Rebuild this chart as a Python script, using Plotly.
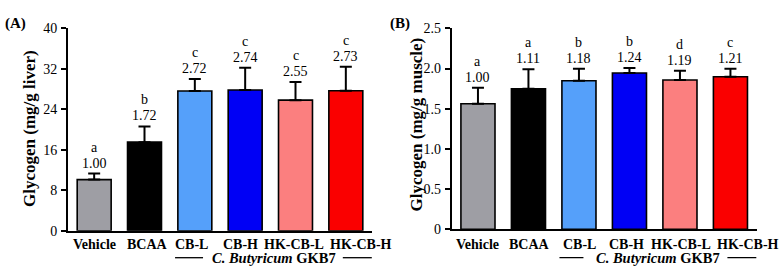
import plotly.graph_objects as go

categories = ["Vehicle", "BCAA", "CB-L", "CB-H", "HK-CB-L", "HK-CB-H"]
colors = ["#9e9ea4", "#000000", "#55a0fa", "#0000f5", "#fb7f7f", "#fa0000"]

# Panel A: liver glycogen (mg/g liver)
liver_mean = [10.1, 17.5, 27.6, 27.8, 25.8, 27.65]
liver_sd = [1.2, 3.1, 2.4, 4.4, 3.6, 4.75]
liver_letters = ["a", "b", "c", "c", "c", "c"]
liver_fold = ["1.00", "1.72", "2.72", "2.74", "2.55", "2.73"]

# Panel B: muscle glycogen (mg/g muscle)
muscle_mean = [1.562, 1.749, 1.848, 1.944, 1.857, 1.898]
muscle_sd = [0.199, 0.241, 0.150, 0.062, 0.116, 0.100]
muscle_letters = ["a", "a", "b", "b", "d", "c"]
muscle_fold = ["1.00", "1.11", "1.18", "1.24", "1.19", "1.21"]

serif = "Liberation Serif, Times New Roman, serif"
W, H = 781, 274

fig = go.Figure()
xs = list(range(len(categories)))

for mean, sd, xa, ya in [(liver_mean, liver_sd, "x", "y"),
                         (muscle_mean, muscle_sd, "x2", "y2")]:
    fig.add_trace(go.Bar(
        x=xs, y=mean, width=0.675,
        marker=dict(color=colors, line=dict(color="black", width=1.6)),
        error_y=dict(type="data", array=sd, arrayminus=[0] * len(sd),
                     symmetric=False, color="black", thickness=2, width=6),
        xaxis=xa, yaxis=ya, showlegend=False,
    ))

# label x offsets (to avoid overlap of long tick labels)
lab_off_A = [0, 0.05, -0.06, -0.1, -0.02, 0.3]
lab_off_B = [0, 0.02, 0.01, -0.06, 0.02, 0.34]

annotations = []
for mean, sd, letters, folds, xa, ya in [
        (liver_mean, liver_sd, liver_letters, liver_fold, "x", "y"),
        (muscle_mean, muscle_sd, muscle_letters, muscle_fold, "x2", "y2")]:
    for i in xs:
        top = mean[i] + sd[i]
        annotations.append(dict(x=i, y=top, xref=xa, yref=ya, text=folds[i],
                                showarrow=False, yanchor="bottom", yshift=1,
                                font=dict(family=serif, size=14, color="black")))
        annotations.append(dict(x=i, y=top, xref=xa, yref=ya, text=letters[i],
                                showarrow=False, yanchor="bottom", yshift=17,
                                font=dict(family=serif, size=14, color="black")))
    offs = lab_off_A if xa == "x" else lab_off_B
    for i in xs:
        annotations.append(dict(x=i + offs[i], y=1 - 244.5 / H, xref=xa, yref="paper",
                                text="<b>%s</b>" % categories[i], showarrow=False,
                                yanchor="middle", borderpad=0,
                                font=dict(family=serif, size=14, color="black")))
    annotations.append(dict(x=3.57, y=1 - 258 / H, xref=xa, yref="paper",
                            text="<b><i>C. Butyricum</i> GKB7</b>", showarrow=False,
                            yanchor="middle", borderpad=0,
                            font=dict(family=serif, size=14.5, color="black")))

# y-axis titles and panel labels
annotations += [
    dict(x=29 / W, y=1 - 129 / H, xref="paper", yref="paper", textangle=-90,
         xanchor="center", yanchor="middle",
         text="<b>Glycogen (mg/g liver)</b>", showarrow=False,
         font=dict(family=serif, size=17, color="black")),
    dict(x=415.5 / W, y=1 - 125 / H, xref="paper", yref="paper", textangle=-90,
         xanchor="center", yanchor="middle",
         text="<b>Glycogen (mg/g muscle)</b>", showarrow=False,
         font=dict(family=serif, size=17, color="black")),
    dict(x=3 / W, y=1 - 13.5 / H, xref="paper", yref="paper", xanchor="left",
         text="<b>(A)</b>", showarrow=False,
         font=dict(family=serif, size=15, color="black")),
    dict(x=388 / W, y=1 - 13.5 / H, xref="paper", yref="paper", xanchor="left",
         text="<b>(B)</b>", showarrow=False,
         font=dict(family=serif, size=15, color="black")),
]

shapes = []
for xa, segs in [("x", [(1.607, 2.163), (4.94, 5.516)]),
                 ("x2", [(1.614, 2.089), (4.94, 5.515)])]:
    for a, b in segs:
        shapes.append(dict(type="line", xref=xa, yref="paper", x0=a, x1=b,
                           y0=1 - 257.7 / H, y1=1 - 257.7 / H,
                           line=dict(color="black", width=1.3)))

xcommon = dict(showline=True, linecolor="black", linewidth=2, ticks="",
               showticklabels=False, showgrid=False, zeroline=False,
               range=[-0.52, 5.52], fixedrange=True)
ycommon = dict(showline=True, linecolor="black", linewidth=2, ticks="outside",
               ticklen=5, tickwidth=2, tickcolor="black", showgrid=False,
               zeroline=False, tickfont=dict(family=serif, size=14, color="black"),
               ticklabelstandoff=1)

fig.update_layout(
    width=W, height=H, margin=dict(l=0, r=0, t=0, b=0, autoexpand=False),
    paper_bgcolor="white", plot_bgcolor="white", bargap=0.3,
    xaxis=dict(domain=[68 / W, 372 / W], anchor="y", **xcommon),
    xaxis2=dict(domain=[451.7 / W, 756.7 / W], anchor="y2", **xcommon),
    yaxis=dict(domain=[1 - 230.7 / H, 1 - 28.3 / H], anchor="x", range=[0, 40],
               tickvals=[0, 8, 16, 24, 32, 40], **ycommon),
    yaxis2=dict(domain=[1 - 229.3 / H, 1 - 28.3 / H], anchor="x2", range=[0, 2.5],
                tickvals=[0, 0.5, 1.0, 1.5, 2.0, 2.5],
                ticktext=["0", "0.5", "1.0", "1.5", "2.0", "2.5"], **ycommon),
    annotations=annotations, shapes=shapes,
)

fig.write_html(
    "out.html",
    config={"displayModeBar": False},
    post_script="document.body.style.margin='0';document.body.style.overflow='hidden';",
)
